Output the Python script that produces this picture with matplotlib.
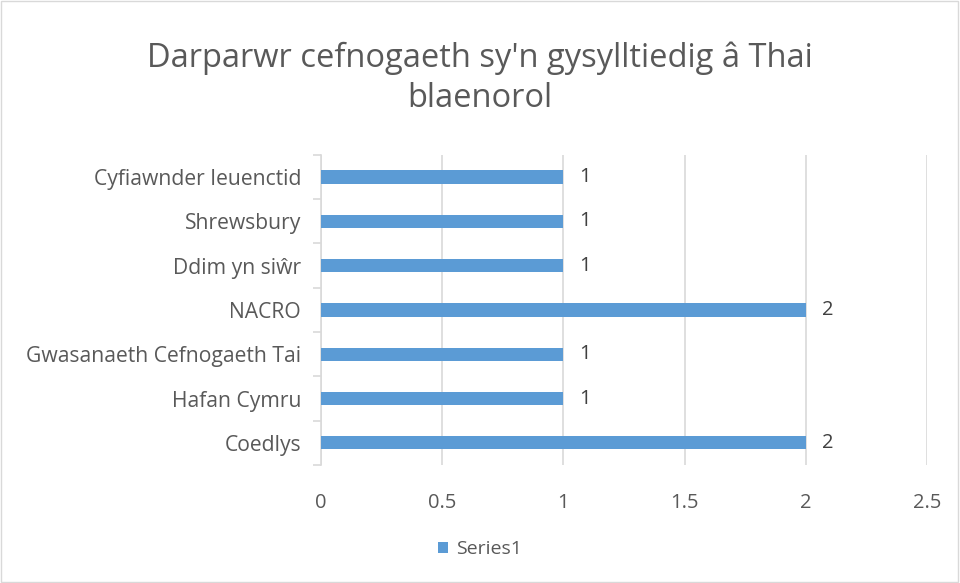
import matplotlib.pyplot as plt
from matplotlib.patches import Rectangle

plt.rcParams['font.family'] = ['Open Sans', 'DejaVu Sans']

# data, bottom to top as drawn
categories = ['Coedlys', 'Hafan Cymru', 'Gwasanaeth Cefnogaeth Tai', 'NACRO',
              'Ddim yn siŵr', 'Shrewsbury', 'Cyfiawnder Ieuenctid']
values = [2, 1, 1, 2, 1, 1, 1]
xticks = [0, 0.5, 1, 1.5, 2, 2.5]
xtick_labels = ['0', '0.5', '1', '1.5', '2', '2.5']
series_name = 'Series1'
title = "Darparwr cefnogaeth sy'n gysylltiedig â Thai\nblaenorol"

bar_color = '#5b9bd5'
text_color = '#595959'
grid_color = '#d9d9d9'

fig = plt.figure(figsize=(9.6, 5.83), dpi=100)
ax = fig.add_axes([0.334, 0.2024, 0.632, 0.532])

pos = list(range(len(categories)))
ax.barh(pos, values, height=0.3, color=bar_color, label=series_name, zorder=3)

for y, v in zip(pos, values):
    ax.text(v + 0.065, y, f'{v}', va='center', ha='left', fontsize=14.5, color='#404040')

ax.set_xlim(0, 2.5)
ax.set_ylim(-0.5, len(categories) - 0.5)
ax.set_xticks(xticks)
ax.set_xticklabels(xtick_labels)
ax.set_yticks(pos)
ax.set_yticklabels(categories)
ax.set_yticks([p + 0.5 for p in range(-1, len(categories))], minor=True)

ax.grid(axis='x', color=grid_color, linewidth=1.2, zorder=0)
for s in ['top', 'right', 'bottom']:
    ax.spines[s].set_visible(False)
ax.spines['left'].set_color(grid_color)
ax.spines['left'].set_linewidth(1.2)

ax.tick_params(axis='x', length=0, pad=20, labelsize=14.5, labelcolor=text_color)
ax.tick_params(axis='y', which='major', length=0, pad=14, labelsize=15.2, labelcolor=text_color)
ax.tick_params(axis='y', which='minor', length=6, width=1.2, color=grid_color)

fig.suptitle(title, y=0.928, fontsize=23.5, color=text_color, linespacing=1.25)

fig.legend(loc='center', bbox_to_anchor=(0.5, 0.058), frameon=False,
           fontsize=14, labelcolor=text_color, handlelength=0.5, handleheight=0.5,
           handletextpad=0.4)

# outer border of chart area
fig.add_artist(Rectangle((0.001, 0.001), 0.997, 0.997, transform=fig.transFigure,
                         fill=False, edgecolor='#d9d9d9', linewidth=1))

fig.savefig('out.png', dpi=100)
